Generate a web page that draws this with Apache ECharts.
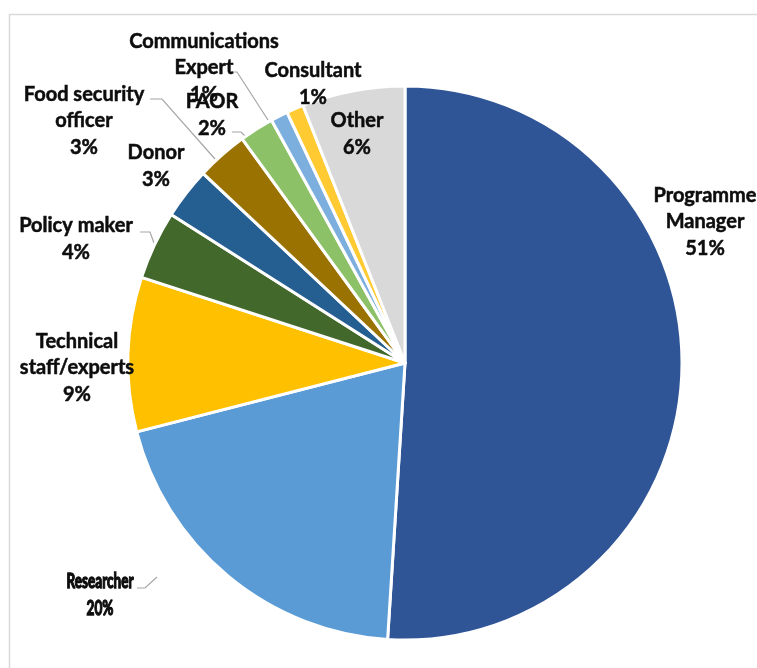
<!DOCTYPE html>
<html>
<head>
<meta charset="utf-8">
<script src="https://cdn.jsdelivr.net/npm/echarts@6/dist/echarts.min.js"></script>
<style>
  html, body { margin: 0; padding: 0; background: #fff; }
  #chart { width: 757px; height: 668px; }
</style>
</head>
<body>
<div id="chart"></div>
<script>
// Respondent roles, clockwise from 12 o'clock
const categories = [
  'Programme\nManager',
  'Researcher',
  'Technical\nstaff/experts',
  'Policy maker',
  'Donor',
  'Food security\nofficer',
  'FAOR',
  'Communications\nExpert',
  'Consultant',
  'Other'
];
const shares = [51, 20, 9, 4, 3, 3, 2, 1, 1, 6];

const sliceColors = [
  '#2F5597', '#5B9BD5', '#FFC000', '#43682B', '#255E91',
  '#9A7202', '#8CC168', '#7DAFDE', '#FFCA32', '#D9D9D9'
];

// Label block centres and leader lines (pixel layout)
const labelCenters = [
  [705, 222], [100, 595], [77, 368], [76, 239], [156, 166],
  [84, 121], [212, 115], [204, 68], [313, 84], [357, 134]
];
const leaderLines = {
  1: [[137, 588], [145, 588], [157, 577]],
  3: [[140, 232], [150, 232], [154, 243]],
  5: [[150, 99], [162, 99], [215, 159]],
  6: [[232, 132], [241, 132], [246, 137]],
  7: [[231, 72], [237, 72], [268, 120]]
};
// The Researcher label is set in a horizontally squeezed face
const condensedIndex = 1;

const total = shares.reduce((a, b) => a + b, 0);
const pctText = i => Math.round(shares[i] / total * 100) + '%';

const chart = echarts.init(document.getElementById('chart'), null, { renderer: 'canvas' });

chart.setOption({
  backgroundColor: '#ffffff',
  animation: false,
  graphic: [{
    type: 'rect',
    shape: { x: 9.5, y: 14.5, width: 900, height: 800 },
    style: { fill: 'none', stroke: '#D9D9D9', lineWidth: 1.5 },
    silent: true,
    z: -10
  }, {
    type: 'text',
    x: labelCenters[condensedIndex][0],
    y: labelCenters[condensedIndex][1],
    scaleX: 0.68,
    silent: true,
    z: 10,
    style: {
      text: categories[condensedIndex] + '\n' + pctText(condensedIndex),
      fontFamily: 'Lato',
      fontWeight: 'bold',
      fontSize: 20,
      lineHeight: 26.5,
      fill: '#0D0D0D',
      stroke: '#0D0D0D',
      lineWidth: 1.3,
      align: 'center',
      verticalAlign: 'middle'
    }
  }],
  series: [{
    type: 'pie',
    center: [405, 363],
    radius: 277,
    startAngle: 90,
    clockwise: true,
    avoidLabelOverlap: false,
    itemStyle: { borderColor: '#ffffff', borderWidth: 3 },
    label: {
      show: true,
      position: 'outside',
      fontFamily: 'Lato',
      fontWeight: 'bold',
      fontSize: 20,
      lineHeight: 26.5,
      color: '#0D0D0D',
      textBorderColor: '#0D0D0D',
      textBorderWidth: 0.5,
      align: 'center',
      formatter: p => p.name + '\n' + Math.round(p.percent) + '%'
    },
    labelLine: {
      show: true,
      lineStyle: { color: '#A6A6A6', width: 1.2 }
    },
    labelLayout: params => {
      const i = params.dataIndex;
      const c = labelCenters[i];
      const out = { x: c[0], y: c[1], align: 'center', verticalAlign: 'middle' };
      if (leaderLines[i]) out.labelLinePoints = leaderLines[i];
      return out;
    },
    data: categories.map((name, i) => ({
      name: name,
      value: shares[i],
      itemStyle: { color: sliceColors[i] },
      labelLine: { show: !!leaderLines[i] },
      // the squeezed Researcher text is drawn separately; keep its leader line
      label: i === condensedIndex
        ? { color: 'rgba(0,0,0,0)', textBorderColor: 'rgba(0,0,0,0)', textBorderWidth: 0 }
        : {}
    }))
  }]
});
</script>
</body>
</html>
